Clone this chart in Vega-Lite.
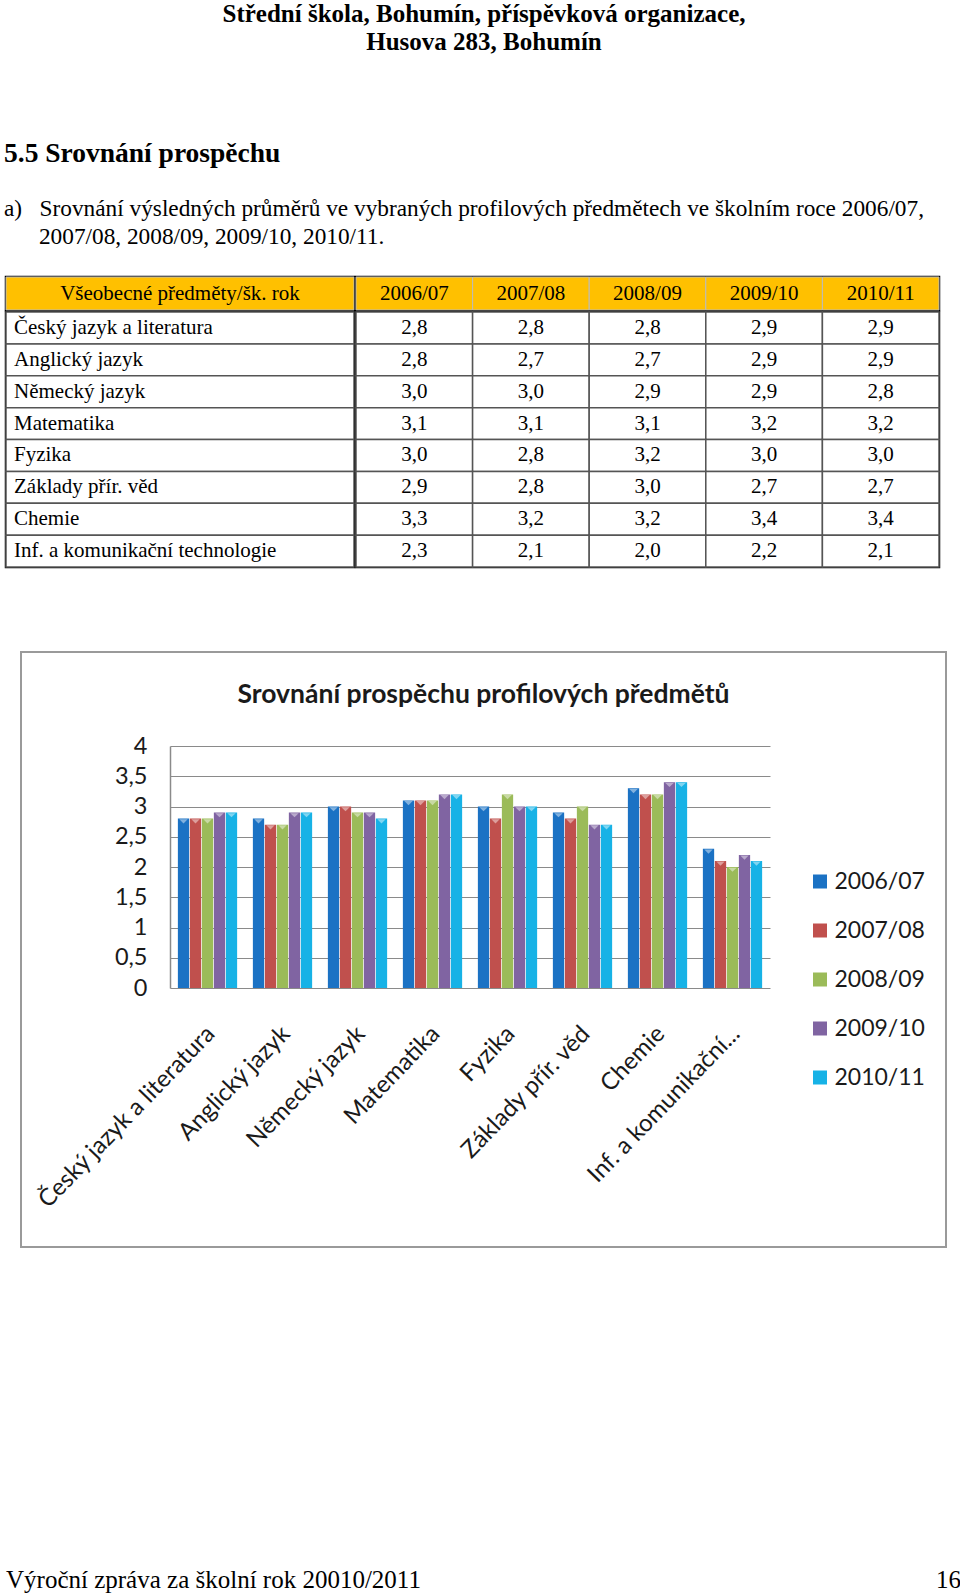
{
  "$schema": "https://vega.github.io/schema/vega-lite/v6.json",
  "background": "white",
  "padding": {"left": 4, "top": 0, "right": 0, "bottom": 0},
  "datasets": {
    "cells": [
      {"row": "Všeobecné předměty/šk. rok", "year": "2006/07"},
      {"row": "Všeobecné předměty/šk. rok", "year": "2007/08"},
      {"row": "Všeobecné předměty/šk. rok", "year": "2008/09"},
      {"row": "Všeobecné předměty/šk. rok", "year": "2009/10"},
      {"row": "Všeobecné předměty/šk. rok", "year": "2010/11"},
      {"row": "Český jazyk a literatura", "year": "2006/07", "value": 2.8},
      {"row": "Český jazyk a literatura", "year": "2007/08", "value": 2.8},
      {"row": "Český jazyk a literatura", "year": "2008/09", "value": 2.8},
      {"row": "Český jazyk a literatura", "year": "2009/10", "value": 2.9},
      {"row": "Český jazyk a literatura", "year": "2010/11", "value": 2.9},
      {"row": "Anglický jazyk", "year": "2006/07", "value": 2.8},
      {"row": "Anglický jazyk", "year": "2007/08", "value": 2.7},
      {"row": "Anglický jazyk", "year": "2008/09", "value": 2.7},
      {"row": "Anglický jazyk", "year": "2009/10", "value": 2.9},
      {"row": "Anglický jazyk", "year": "2010/11", "value": 2.9},
      {"row": "Německý jazyk", "year": "2006/07", "value": 3.0},
      {"row": "Německý jazyk", "year": "2007/08", "value": 3.0},
      {"row": "Německý jazyk", "year": "2008/09", "value": 2.9},
      {"row": "Německý jazyk", "year": "2009/10", "value": 2.9},
      {"row": "Německý jazyk", "year": "2010/11", "value": 2.8},
      {"row": "Matematika", "year": "2006/07", "value": 3.1},
      {"row": "Matematika", "year": "2007/08", "value": 3.1},
      {"row": "Matematika", "year": "2008/09", "value": 3.1},
      {"row": "Matematika", "year": "2009/10", "value": 3.2},
      {"row": "Matematika", "year": "2010/11", "value": 3.2},
      {"row": "Fyzika", "year": "2006/07", "value": 3.0},
      {"row": "Fyzika", "year": "2007/08", "value": 2.8},
      {"row": "Fyzika", "year": "2008/09", "value": 3.2},
      {"row": "Fyzika", "year": "2009/10", "value": 3.0},
      {"row": "Fyzika", "year": "2010/11", "value": 3.0},
      {"row": "Základy přír. věd", "year": "2006/07", "value": 2.9},
      {"row": "Základy přír. věd", "year": "2007/08", "value": 2.8},
      {"row": "Základy přír. věd", "year": "2008/09", "value": 3.0},
      {"row": "Základy přír. věd", "year": "2009/10", "value": 2.7},
      {"row": "Základy přír. věd", "year": "2010/11", "value": 2.7},
      {"row": "Chemie", "year": "2006/07", "value": 3.3},
      {"row": "Chemie", "year": "2007/08", "value": 3.2},
      {"row": "Chemie", "year": "2008/09", "value": 3.2},
      {"row": "Chemie", "year": "2009/10", "value": 3.4},
      {"row": "Chemie", "year": "2010/11", "value": 3.4},
      {"row": "Inf. a komunikační technologie", "year": "2006/07", "value": 2.3},
      {"row": "Inf. a komunikační technologie", "year": "2007/08", "value": 2.1},
      {"row": "Inf. a komunikační technologie", "year": "2008/09", "value": 2.0},
      {"row": "Inf. a komunikační technologie", "year": "2009/10", "value": 2.2},
      {"row": "Inf. a komunikační technologie", "year": "2010/11", "value": 2.1}
    ]
  },
  "spacing": 317,
  "vconcat": [
    {
      "spacing": 82,
      "vconcat": [
        {
          "spacing": 84,
          "vconcat": [
            {
              "width": 956,
              "height": 56,
              "data": {"values": [
                {"line": 1, "text": "Střední škola, Bohumín, příspěvková organizace,"},
                {"line": 2, "text": "Husova 283, Bohumín"}
              ]},
              "mark": {"type": "text", "font": "Liberation Serif", "fontSize": 25, "fontWeight": "bold", "color": "black", "baseline": "middle"},
              "encoding": {
                "y": {"field": "line", "type": "ordinal", "scale": {"type": "point", "padding": 0.5}, "axis": null},
                "text": {"field": "text"}
              }
            },
            {
              "title": {
                "text": "5.5 Srovnání prospěchu",
                "subtitle": [
                  "a)\u00a0\u00a0\u00a0Srovnání výsledných průměrů ve vybraných profilových předmětech ve školním roce 2006/07,",
                  "\u200b\u00a0\u00a0\u00a0\u00a0\u00a0\u00a02007/08, 2008/09, 2009/10, 2010/11."
                ],
                "anchor": "start",
                "font": "Liberation Serif",
                "fontSize": 27.5,
                "fontWeight": "bold",
                "color": "black",
                "subtitleFont": "Liberation Serif",
                "subtitleFontSize": 23.3,
                "subtitleColor": "black",
                "subtitleLineHeight": 28,
                "subtitlePadding": 30,
                "offset": 27
              },
              "spacing": -2.5,
              "vconcat": [
                {
                  "spacing": -2.5,
                  "hconcat": [
                    {
                      "width": 348,
                      "height": 33,
                      "view": {"stroke": "black", "strokeWidth": 2.5},
                      "data": {"name": "cells"},
                      "transform": [{"filter": "datum.year == '2006/07' && datum.value == null"}],
                      "layer": [
                        {"mark": {"type": "rect", "fill": "#FFC000", "stroke": "#bbbbbb", "strokeWidth": 1}},
                        {
                          "mark": {"type": "text", "font": "Liberation Serif", "fontSize": 21, "color": "black"},
                          "encoding": {"text": {"field": "row"}}
                        }
                      ]
                    },
                    {
                      "width": 583,
                      "height": 33,
                      "view": {"stroke": "black", "strokeWidth": 2.5},
                      "data": {"name": "cells"},
                      "transform": [{"filter": "datum.value == null"}],
                      "encoding": {
                        "x": {"field": "year", "type": "nominal", "scale": {"paddingInner": 0, "paddingOuter": 0}, "axis": null}
                      },
                      "layer": [
                        {"mark": {"type": "rect", "fill": "#FFC000", "stroke": "#bbbbbb", "strokeWidth": 1}},
                        {
                          "mark": {"type": "text", "font": "Liberation Serif", "fontSize": 21, "color": "black"},
                          "encoding": {"text": {"field": "year"}}
                        }
                      ]
                    }
                  ]
                },
                {
                  "spacing": -2.5,
                  "hconcat": [
                    {
                      "width": 348,
                      "height": 255,
                      "view": {"stroke": "black", "strokeWidth": 2.5},
                      "data": {"name": "cells"},
                      "transform": [{"filter": "datum.year == '2006/07' && datum.value != null"}],
                      "encoding": {
                        "y": {
                          "field": "row", "type": "nominal",
                          "scale": {"domain": ["Český jazyk a literatura", "Anglický jazyk", "Německý jazyk", "Matematika", "Fyzika", "Základy přír. věd", "Chemie", "Inf. a komunikační technologie"], "paddingInner": 0, "paddingOuter": 0},
                          "axis": null
                        }
                      },
                      "layer": [
                        {"mark": {"type": "rect", "fill": "white", "stroke": "#555555", "strokeWidth": 1.5}},
                        {
                          "mark": {"type": "text", "font": "Liberation Serif", "fontSize": 21, "color": "black", "align": "left", "dx": 8},
                          "encoding": {
                            "x": {"datum": 0, "type": "quantitative", "scale": {"domain": [0, 1]}, "axis": null},
                            "text": {"field": "row"}
                          }
                        }
                      ]
                    },
                    {
                      "width": 583,
                      "height": 255,
                      "view": {"stroke": "black", "strokeWidth": 2.5},
                      "data": {"name": "cells"},
                      "transform": [{"filter": "datum.value != null"}],
                      "encoding": {
                        "x": {"field": "year", "type": "nominal", "scale": {"paddingInner": 0, "paddingOuter": 0}, "axis": null},
                        "y": {
                          "field": "row", "type": "nominal",
                          "scale": {"domain": ["Český jazyk a literatura", "Anglický jazyk", "Německý jazyk", "Matematika", "Fyzika", "Základy přír. věd", "Chemie", "Inf. a komunikační technologie"], "paddingInner": 0, "paddingOuter": 0},
                          "axis": null
                        }
                      },
                      "layer": [
                        {"mark": {"type": "rect", "fill": "white", "stroke": "#555555", "strokeWidth": 1.5}},
                        {
                          "mark": {"type": "text", "font": "Liberation Serif", "fontSize": 21, "color": "black"},
                          "encoding": {"text": {"field": "value", "type": "quantitative", "format": ".1f"}}
                        }
                      ]
                    }
                  ]
                }
              ]
            }
          ]
        },
        {
          "spacing": 0,
          "hconcat": [
            {"width": 14, "height": 10, "data": {"values": []}, "mark": "point"},
            {
              "width": 925,
              "height": 595,
              "view": {"stroke": "#9a9a9a", "strokeWidth": 2, "fill": "white"},
              "title": {
                "text": "Srovnání prospěchu profilových předmětů",
                "anchor": "middle",
                "frame": "group",
                "font": "Lato",
                "fontSize": 26.5,
                "fontWeight": "bold",
                "color": "#1a1a1a",
                "offset": -56
              },
              "data": {"name": "cells"},
              "transform": [{"filter": "datum.value != null"}],
              "encoding": {
                "x": {
                  "field": "row", "type": "nominal",
                  "sort": ["Český jazyk a literatura", "Anglický jazyk", "Německý jazyk", "Matematika", "Fyzika", "Základy přír. věd", "Chemie", "Inf. a komunikační technologie"],
                  "scale": {"range": [149, 749], "paddingInner": 0.21, "paddingOuter": 0.105},
                  "axis": null
                },
                "y": {
                  "field": "value", "type": "quantitative",
                  "scale": {"domain": [0, 4], "range": [336, 94], "nice": false},
                  "axis": {
                    "values": [0, 0.5, 1, 1.5, 2, 2.5, 3, 3.5, 4],
                    "format": "~g",
                    "offset": -149, "title": null,
                    "grid": true, "gridColor": "#8a8a8a", "gridWidth": 1,
                    "domain": true, "domainColor": "#8a8a8a", "domainWidth": 1.5,
                    "ticks": false, "labelPadding": 23,
                    "labelFont": "Lato", "labelFontSize": 23.5, "labelColor": "#1a1a1a"
                  }
                }
              },
              "layer": [
                {
                  "mark": {"type": "bar"},
                  "encoding": {
                    "xOffset": {"field": "year", "type": "nominal", "scale": {"paddingInner": 0.06}},
                    "color": {
                      "field": "year", "type": "nominal",
                      "scale": {"range": ["#1B72C4", "#C0504D", "#9BBB59", "#8064A2", "#17B2E6"]},
                      "legend": {
                        "orient": "none", "legendX": 802.5, "legendY": 870, "title": null,
                        "symbolType": "square", "symbolSize": 196, "symbolStrokeWidth": 0,
                        "labelFont": "Lato", "labelFontSize": 23, "labelColor": "#1a1a1a",
                        "rowPadding": 25, "labelOffset": 3
                      }
                    }
                  }
                },
                {
                  "mark": {"type": "point", "shape": "M-1,0.15L1,0.15L0,1.15Z", "size": 70, "filled": true, "color": "white", "opacity": 0.45},
                  "encoding": {
                    "xOffset": {"field": "year", "type": "nominal", "scale": {"paddingInner": 0.06}}
                  }
                },
                {
                  "transform": [{"filter": "datum.year == '2006/07'"}],
                  "mark": {"type": "text", "font": "Lato", "fontSize": 24, "color": "#1a1a1a", "angle": -46, "align": "right", "baseline": "middle", "dx": -28, "dy": 32},
                  "encoding": {
                    "y": {"datum": 0, "type": "quantitative"},
                    "text": {"condition": {"test": "datum.row == 'Inf. a komunikační technologie'", "value": "Inf. a komunikační..."}, "field": "row", "type": "nominal"}
                  }
                }
              ]
            }
          ]
        }
      ]
    },
    {
      "width": 955,
      "height": 30,
      "data": {"values": [{"t": "Výroční zpráva za školní rok 20010/2011", "side": "left"}, {"t": "16", "side": "right"}]},
      "encoding": {
        "x": {"field": "side", "type": "nominal", "scale": {"type": "point", "padding": 0, "domain": ["left", "right"]}, "axis": null},
        "text": {"field": "t"}
      },
      "layer": [
        {"transform": [{"filter": "datum.side == 'left'"}], "mark": {"type": "text", "font": "Liberation Serif", "fontSize": 25, "color": "black", "align": "left"}},
        {"transform": [{"filter": "datum.side == 'right'"}], "mark": {"type": "text", "font": "Liberation Serif", "fontSize": 25, "color": "black", "align": "right"}}
      ]
    }
  ],
  "config": {
    "view": {"stroke": null},
    "locale": {"number": {"decimal": ",", "thousands": "\u00a0", "grouping": [3], "currency": ["", "\u00a0Kč"]}}
  }
}
